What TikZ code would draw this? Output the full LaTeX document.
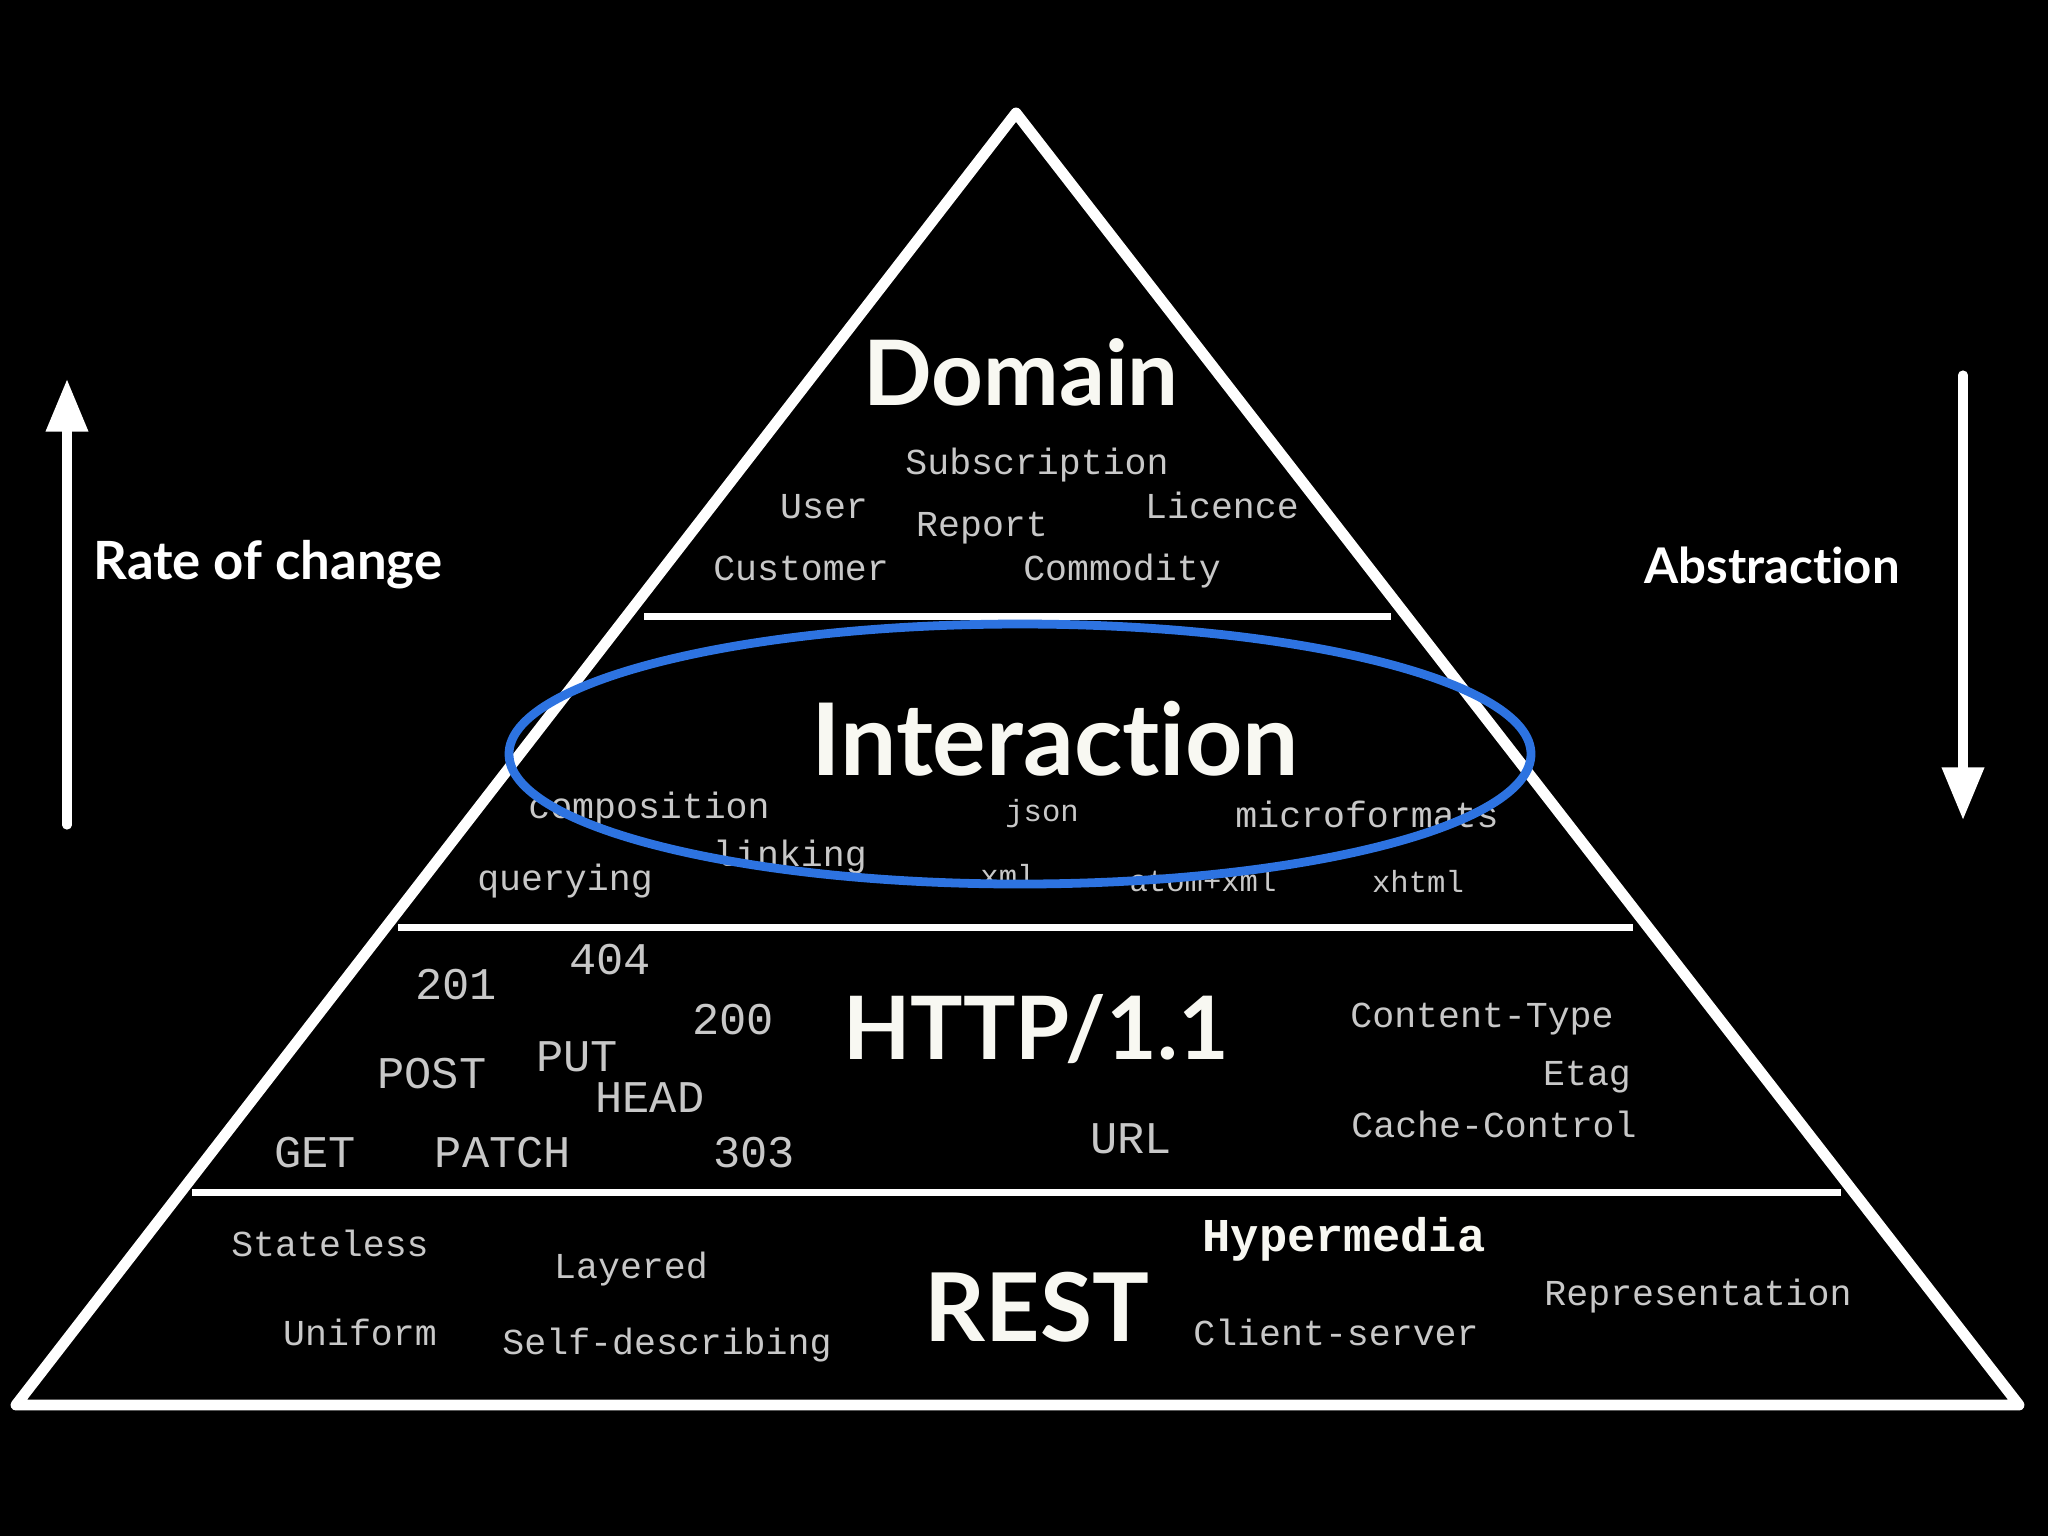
\documentclass[tikz,border=0pt]{standalone}
\usepackage{fontspec}
\setmainfont[Ligatures=NoCommon]{Lato}
\newfontfamily\wordfont{Liberation Mono}
\usetikzlibrary{backgrounds,arrows.meta}
\definecolor{wordgray}{RGB}{200,200,200}
\definecolor{ringblue}{RGB}{45,115,225}
\definecolor{chalk}{RGB}{248,248,242}

\begin{document}
\begin{tikzpicture}[x=0.1mm, y=-0.1mm,
    background rectangle/.style={fill=black}, show background rectangle, inner frame sep=0pt,
    rim/.style={white, line width=3.1pt, line join=round},
    divider/.style={white, line width=2pt},
    tier/.style={text=chalk, font=\bfseries\fontsize{#1}{30}\selectfont, inner sep=0pt},
    tier/.default=27,
    word/.style={text=wordgray, font=\wordfont\fontsize{10.4}{12}\selectfont, inner sep=0pt, text height=0.6em, text depth=0pt},
    method/.style={word, font=\wordfont\fontsize{12.9}{15}\selectfont},
    wordsm/.style={word, font=\wordfont\fontsize{8.7}{10}\selectfont},
    sidelabel/.style={text=white, font=\bfseries\fontsize{#1}{18}\selectfont, inner sep=0pt},
    sidelabel/.default=15,
    trend/.style={white, line width=2.6pt, line cap=round, -{Triangle[width=11.5pt, length=15pt]}},
    ring/.style={draw=ringblue, line width=2.5pt}]
    \useasboundingbox (0,0) rectangle (2048,1536);

    % pyramid
    \coordinate (top) at (1016,113);
    \coordinate (bl) at (16,1405);
    \coordinate (br) at (2019,1405);
    \draw[rim] (top) -- (bl) -- (br) -- cycle;
    \foreach \y/\l/\r in {616/644/1391, 927/398/1633, 1192/192/1841}
        \draw[divider] (\l,\y) -- (\r,\y);

    % domain
    \node[tier=25.7] (domain) at (1021,372) {Domain};
    \node[word] (subscription) at (1037,464) {Subscription};
    \node[word] (user) at (824,508) {User};
    \node[word] (licence) at (1222,508) {Licence};
    \node[word] (report) at (982,526) {Report};
    \node[word] (customer) at (801,570) {Customer};
    \node[word] (commodity) at (1122,570) {Commodity};

    % interaction
    \node[tier=28.5] (interaction) at (1055,739) {Interaction};
    \node[word] (composition) at (649,808) {composition};
    \node[wordsm] (json) at (1042,811) {json};
    \node[word] (microformats) at (1367,817) {microformats};
    \node[word] (linking) at (790,856) {linking};
    \node[word] (querying) at (565,880) {querying};
    \node[wordsm] (xml) at (1008,876) {xml};
    \node[wordsm] (atomxml) at (1203,881) {atom+xml};
    \node[wordsm] (xhtml) at (1418,882) {xhtml};

    % http
    \node[tier=24.9] (http) at (1036,1029) {HTTP/1.1};
    \node[method] (c201) at (456,989) {201};
    \node[method] (c404) at (610,964) {404};
    \node[method] (c200) at (733,1024) {200};
    \node[method] (post) at (432,1078) {POST};
    \node[method] (put) at (577,1061) {PUT};
    \node[method] (head) at (650,1102) {HEAD};
    \node[method] (get) at (315,1157) {GET};
    \node[method] (patch) at (503,1157) {PATCH};
    \node[method] (c303) at (754,1157) {303};
    \node[method] (url) at (1131,1143) {URL};
    \node[word] (ctype) at (1482,1017) {Content-Type};
    \node[word] (etag) at (1587,1075) {Etag};
    \node[word] (cache) at (1494,1127) {Cache-Control};

    % rest
    \node[tier] (rest) at (1037,1307) {REST};
    \node[word] (stateless) at (330,1246) {Stateless};
    \node[word] (layered) at (631,1268) {Layered};
    \node[word] (uniform) at (360,1335) {Uniform};
    \node[word] (selfdesc) at (667,1344) {Self-describing};
    \node[word, text=chalk, font=\wordfont\bfseries\fontsize{13.4}{15}\selectfont] (hypermedia) at (1344,1241) {Hypermedia};
    \node[word] (clientserver) at (1336,1335) {Client-server};
    \node[word] (representation) at (1698,1295) {Representation};

    % highlight
    \draw[ring] (1020,754) ellipse [x radius=5.11cm, y radius=1.30cm];

    % side arrows
    \coordinate (up0) at (67,825);
    \coordinate (up1) at (67,379);
    \draw[trend] (up0) -- (up1);
    \node[sidelabel] (rate) at (268,565) {Rate of change};
    \coordinate (down0) at (1963,375);
    \coordinate (down1) at (1963,820);
    \draw[trend] (down0) -- (down1);
    \node[sidelabel=14] (abstraction) at (1772,565) {Abstraction};
\end{tikzpicture}
\end{document}
